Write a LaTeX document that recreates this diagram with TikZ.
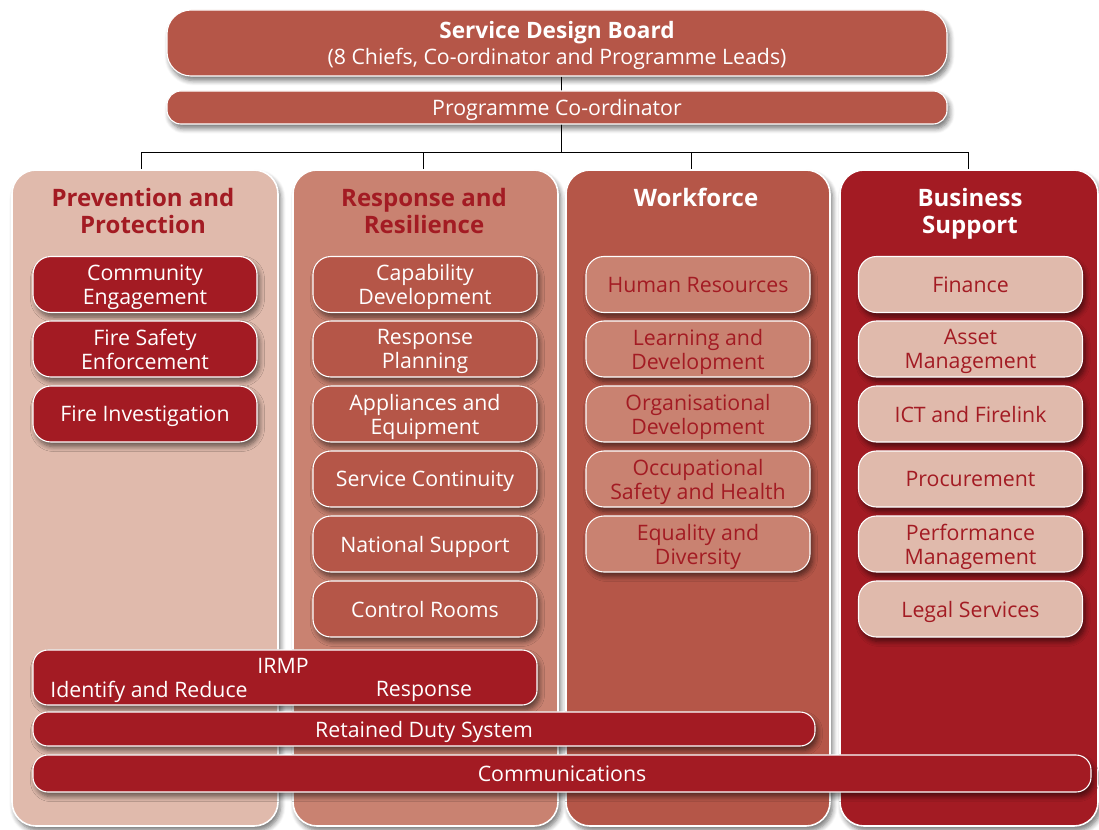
\documentclass[tikz,border=0pt]{standalone}
\usepackage{fontspec}
\setmainfont{Open Sans}
\usetikzlibrary{shadows,shadows.blur}
\definecolor{dred}{RGB}{163,27,35}
\definecolor{mred}{RGB}{181,86,72}
\definecolor{sal}{RGB}{201,130,113}
\definecolor{lpink}{RGB}{224,186,172}
\tikzset{
  shad/.style={blur shadow={shadow blur steps=6, shadow xshift=2.5pt, shadow yshift=-4.5pt, shadow opacity=55, shadow blur radius=5pt}},
  txt/.style={inner sep=0pt, text depth=0pt, font=\fontsize{21.3}{24}\selectfont},
  box/.style={txt, draw=white, line width=1.1pt, align=center, shad},
  colbox/.style={box, line width=1.6pt, rounded corners=24pt, minimum height=656pt},
  coltitle/.style={align=center, inner sep=0pt, text depth=0pt, font=\fontsize{24}{27}\selectfont\bfseries},
  sub/.style={box, rounded corners=18pt, minimum width=224pt, minimum height=56pt},
  bar/.style={box, fill=dred, text=white, rounded corners=15pt},
  conn/.style={draw=black, line width=0.8pt}
}
\begin{document}
\begin{tikzpicture}[x=1pt,y=-1pt]
\useasboundingbox (0,0) rectangle (1099,829);
\coordinate (bus) at (561,152);
% columns
\node[colbox, fill=lpink, minimum width=266pt] (prev) at (145,498) {};
\node[colbox, fill=sal, minimum width=265pt] (resp) at (425.5,498) {};
\node[colbox, fill=mred, minimum width=264pt] (work) at (698,498) {};
\node[colbox, fill=dred, minimum width=258pt] (bus4) at (969,498) {};
% board
\node[box, fill=mred, text=white, rounded corners=24pt, minimum width=780pt, minimum height=66pt, font=\fontsize{21.3}{26}\selectfont] (board) at (557,43)
  {\textbf{\fontsize{22.6}{26}\selectfont Service Design Board}\\(8 Chiefs, Co-ordinator and Programme Leads)};
\draw[conn] (board.south -| bus) -- (bus);
\node[box, fill=mred, text=white, rounded corners=14pt, minimum width=780pt, minimum height=33pt] (coord) at (557,107.5) {Programme Co-ordinator};
\draw[conn] ([xshift=-4pt]prev.north) |- (bus);
\draw[conn] ([xshift=-2.5pt]resp.north) |- (bus);
\draw[conn] ([xshift=-7pt]work.north) |- (bus);
\draw[conn] ([xshift=-1pt]bus4.north) |- (bus);
% titles
\node[coltitle, text=dred] (t1) at (143,211) {Prevention and\\Protection};
\node[coltitle, text=dred] (t2) at (424,211) {Response and\\Resilience};
\node[coltitle, text=white] (t3) at (696,197) {Workforce};
\node[coltitle, text=white] (t4) at (970,211) {Business\\Support};
% prevention
\begin{scope}[every node/.style={sub, fill=dred, text=white}]
\node (p1) at (145,284.5) {Community\\Engagement};
\node (p2) at (145,349) {Fire Safety\\Enforcement};
\node (p3) at (145,414) {Fire Investigation};
\end{scope}
% response
\begin{scope}[every node/.style={sub, fill=mred, text=white}]
\node (r1) at (425,284.5) {Capability\\Development};
\node (r2) at (425,349) {Response\\Planning};
\node (r3) at (425,414) {Appliances and\\Equipment};
\node (r4) at (425,479) {Service Continuity};
\node (r5) at (425,544) {National Support};
\node (r6) at (425,609) {Control Rooms};
\end{scope}
% workforce
\begin{scope}[every node/.style={sub, fill=sal, text=dred}]
\node (w1) at (698,284.5) {Human Resources};
\node (w2) at (698,349) {Learning and\\Development};
\node (w3) at (698,414) {Organisational\\Development};
\node (w4) at (698,479) {Occupational\\Safety and Health};
\node (w5) at (698,544) {Equality and\\Diversity};
\end{scope}
% business
\begin{scope}[every node/.style={sub, fill=lpink, text=dred}]
\node (b1) at (970.5,284.5) {Finance};
\node (b2) at (970.5,349) {Asset\\Management};
\node (b3) at (970.5,414) {ICT and Firelink};
\node (b4) at (970.5,479) {Procurement};
\node (b5) at (970.5,544) {Performance\\Management};
\node (b6) at (970.5,609) {Legal Services};
\end{scope}
% bars
\node[bar, minimum width=504pt, minimum height=55pt] (irmp) at (285,677.5) {};
\node[txt, text=white] (irmpt) at (283,666) {IRMP};
\node[txt, text=white] (irmpa) at (149,689) {Identify and Reduce};
\node[txt, text=white] (irmpb) at (424,689) {Response};
\node[bar, minimum width=782pt, minimum height=34pt] (rds) at (424,729) {Retained Duty System};
\node[bar, minimum width=1058pt, minimum height=37pt] (comm) at (562,773.5) {Communications};
\end{tikzpicture}
\end{document}
